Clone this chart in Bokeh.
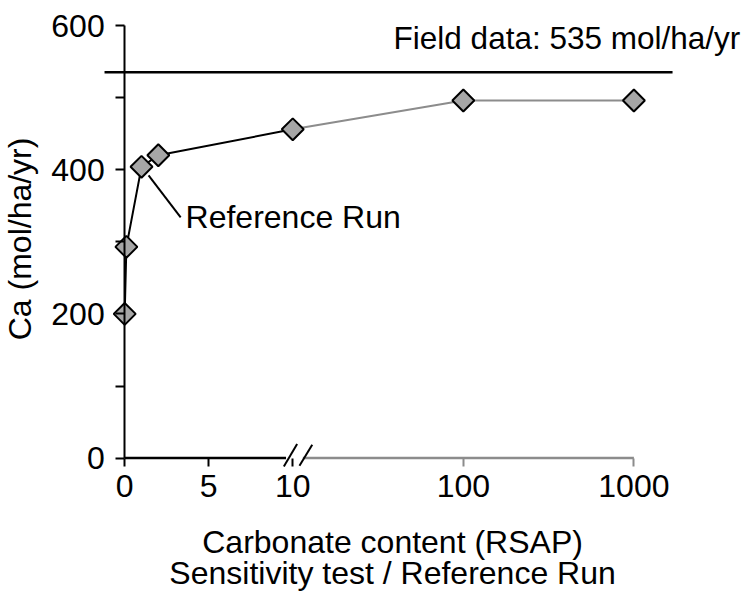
import math
import numpy as np
from bokeh.plotting import figure
from bokeh.models import (Range1d, FixedTicker, LinearAxis, Label,
                          CustomJSTickFormatter)
from bokeh.embed import file_html
from bokeh.resources import INLINE

# ---------------- data ----------------
carbonate = [0, 0.1, 1, 2, 10, 100, 1000]
ca = [200, 293, 404, 420, 456, 496, 496]
field_value = 535
field_text = "Field data: 535 mol/ha/yr"
reference_run_x = 1
x_tick_values = [0, 5, 10, 100, 1000]
y_tick_values = [0, 200, 400, 600]
y_minor_values = [100, 300, 500]
x_title_1 = "Carbonate content (RSAP)"
x_title_2 = "Sensitivity test / Reference Run"
y_title = "Ca (mol/ha/yr)"

# ---------------- broken axis transform ----------------
BREAK = 10.0
DECADE = 10.15  # display units per decade beyond the break


def to_u(x):
    if x <= BREAK:
        return float(x)
    return BREAK + (math.log10(x) - math.log10(BREAK)) * DECADE


# ---------------- layout ----------------
W, H = 746, 591
PX_U, ORG_X = 16.805, 124.2      # px per display unit, pixel of x = 0
PX_Y, ORG_Y = 0.721, 457.6       # px per Ca unit, pixel of y = 0
x_lo, x_hi = -ORG_X / PX_U, (W - ORG_X) / PX_U
y_hi, y_lo = ORG_Y / PX_Y, (ORG_Y - H) / PX_Y

FONT = "Liberation Sans"
FS = "32px"
GRAY_LINE = "#8c8c8c"

u = [to_u(v) for v in carbonate]

p = figure(frame_width=W, frame_height=H,
           x_range=Range1d(x_lo, x_hi), y_range=Range1d(y_lo, y_hi),
           output_backend="svg", toolbar_location=None,
           x_axis_location=None, y_axis_location=None,
           min_border=0)
p.outline_line_color = None
p.grid.visible = False
p.background_fill_color = "white"
p.border_fill_color = "white"

# y axis at x = 0
yaxis = LinearAxis(fixed_location=to_u(0), bounds=(0, 600),
                   ticker=FixedTicker(ticks=y_tick_values, minor_ticks=y_minor_values),
                   axis_line_width=2, major_tick_line_width=2, minor_tick_line_width=2,
                   major_tick_out=9, major_tick_in=0, minor_tick_out=9, minor_tick_in=0,
                   major_label_text_font=FONT, major_label_text_font_size=FS,
                   major_label_text_color="black", major_label_standoff=11)
p.add_layout(yaxis, "left")

fmt = CustomJSTickFormatter(args=dict(B=BREAK, D=DECADE), code="""
    if (tick <= B + 1e-9) { return String(Math.round(tick)); }
    return String(Math.round(Math.pow(10, Math.log10(B) + (tick - B) / D)));
""")

black_ticks = [to_u(v) for v in x_tick_values if v <= BREAK]
gray_ticks = [to_u(v) for v in x_tick_values if v > BREAK]

axis_style = dict(formatter=fmt, axis_line_color=None, major_tick_line_width=2,
                  major_tick_out=8, major_tick_in=0, minor_tick_line_color=None,
                  major_label_text_font=FONT, major_label_text_font_size=FS,
                  major_label_text_color="black", major_label_standoff=9)
xaxis_a = LinearAxis(fixed_location=0, ticker=FixedTicker(ticks=black_ticks),
                     major_tick_line_color="black", **axis_style)
xaxis_b = LinearAxis(fixed_location=0, ticker=FixedTicker(ticks=gray_ticks),
                     major_tick_line_color=GRAY_LINE, **axis_style)
p.add_layout(xaxis_a, "below")
p.add_layout(xaxis_b, "below")

# x axis line with break
ub = to_u(BREAK)
p.segment(x0=[to_u(0)], y0=[0], x1=[ub - 0.4], y1=[0], line_color="black", line_width=2.5)
p.segment(x0=[ub + 0.6], y0=[0], x1=[to_u(max(carbonate))], y1=[0],
          line_color=GRAY_LINE, line_width=2.5)
p.segment(x0=[ub - 0.53, ub + 0.40], y0=[-11.5, -10.5],
          x1=[ub + 0.26, ub + 1.16], y1=[19.5, 18.5],
          line_color="black", line_width=2)

# field data reference line (spans the plotting area)
p.segment(x0=[-1.2], y0=[field_value], x1=[32.6], y1=[field_value],
          line_color="black", line_width=2.5)

# series
lin_i = [i for i, v in enumerate(carbonate) if v <= BREAK]
log_i = [i for i, v in enumerate(carbonate) if v >= BREAK]
p.line([u[i] for i in log_i], [ca[i] for i in log_i], line_color=GRAY_LINE, line_width=2)
p.line([u[i] for i in lin_i], [ca[i] for i in lin_i], line_color="black", line_width=2)
p.scatter(u, ca, marker="square", size=15.5, angle=np.pi / 4,
          fill_color="#a6a6a6", line_color="black", line_width=2)

# annotation for the reference run
ri = carbonate.index(reference_run_x)
rx, ry = u[ri], ca[ri]
p.segment(x0=[rx + 0.42], y0=[ry - 12], x1=[rx + 2.33], y1=[ry - 70],
          line_color="black", line_width=2)
p.add_layout(Label(x=rx + 2.62, y=ry - 69, text="Reference Run", text_font=FONT,
                   text_font_size=FS, text_align="left", text_baseline="alphabetic",
                   text_color="black"))

# field data label
p.add_layout(Label(x=16.0, y=583, text=field_text, text_font=FONT, text_font_size="31.5px",
                   text_align="left", text_baseline="alphabetic", text_color="black"))

# axis titles
p.add_layout(Label(x=-6.26, y=304, text=y_title, angle=math.pi / 2, text_font=FONT,
                   text_font_size=FS, text_align="center", text_baseline="middle",
                   text_color="black"))
p.add_layout(Label(x=15.94, y=-116, text=x_title_1, text_font=FONT, text_font_size=FS,
                   text_align="center", text_baseline="alphabetic", text_color="black"))
p.add_layout(Label(x=15.94, y=-159, text=x_title_2, text_font=FONT, text_font_size=FS,
                   text_align="center", text_baseline="alphabetic", text_color="black"))

open("out.html", "w").write(file_html(p, INLINE))
